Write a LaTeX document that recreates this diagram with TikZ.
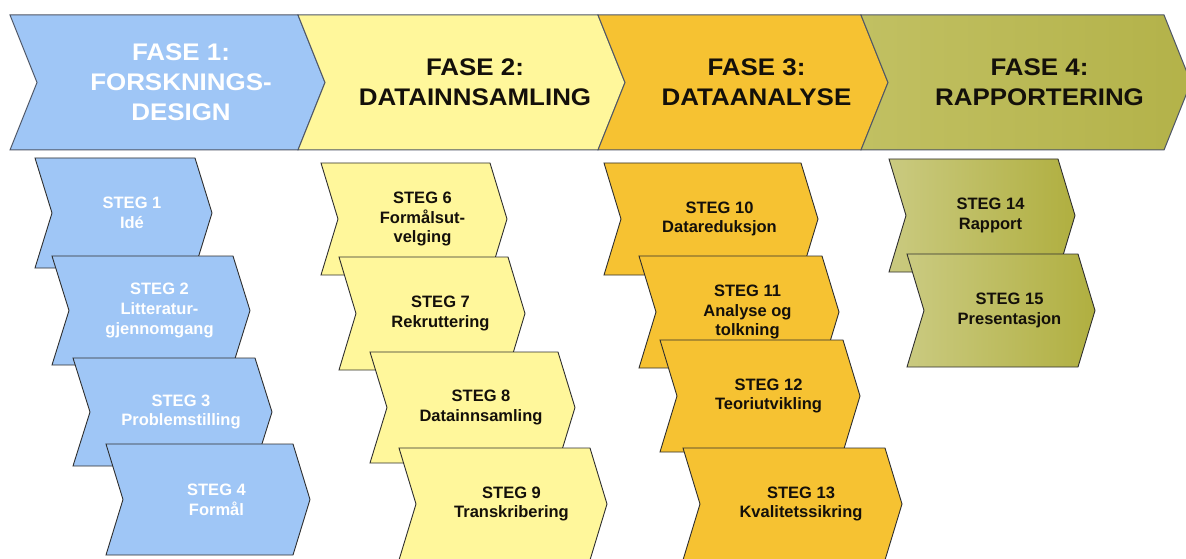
\documentclass[tikz,border=0pt]{standalone}
\usepackage{fontspec}
\setmainfont{Liberation Sans}
\newfontfamily\headfont[FakeStretch=1.08]{Liberation Sans}
\definecolor{phaseblue}{HTML}{9FC6F6}
\definecolor{phaseyellow}{HTML}{FFF79B}
\definecolor{phaseorange}{HTML}{F6C232}
\definecolor{olivelight}{HTML}{C1C062}
\definecolor{olivedark}{HTML}{B3B249}
\definecolor{steplight}{HTML}{CACA80}
\definecolor{stepdark}{HTML}{B0AF40}
\definecolor{phaseline}{HTML}{4E5666}
\definecolor{stepline}{HTML}{2E2E2E}
\definecolor{inkdark}{HTML}{14100A}
% #1 name, #2 left x, #3 top y, #4 top-right x, #5 bottom y,
% #6 notch/point depth, #7 shape style, #8 text style, #9 text
\newcommand\chevronbox[9]{%
  \path[#7] (#2,#3) -- (#4,#3) -- ({#4+#6},{(#3+#5)/2}) -- (#4,#5)
    -- (#2,#5) -- ({#2+#6},{(#3+#5)/2}) -- cycle;
  \node[#8] (#1) at ({(#2+#4)/2+#6},{(#3+#5)/2}) {#9};
}
\begin{document}
\begin{tikzpicture}[x=1pt,y=-1pt,
  phase/.style={draw=phaseline, line width=1pt},
  stepshape/.style={draw=stepline, line width=0.9pt},
  phasetext/.style={align=center, inner sep=0pt,
    font=\headfont\bfseries\fontsize{24}{30}\selectfont},
  steptext/.style={align=center, inner sep=0pt,
    font=\bfseries\fontsize{16.5}{19.8}\selectfont},
  bluephase/.style={phase, fill=phaseblue},
  yellowphase/.style={phase, fill=phaseyellow},
  orangephase/.style={phase, fill=phaseorange},
  olivephase/.style={phase, left color=olivelight, right color=olivedark},
  bluestep/.style={stepshape, fill=phaseblue},
  yellowstep/.style={stepshape, fill=phaseyellow},
  orangestep/.style={stepshape, fill=phaseorange},
  olivestep/.style={stepshape, left color=steplight, right color=stepdark},
  whitetext/.style={text=white},
  darktext/.style={text=inkdark}]
\useasboundingbox (0,0) rectangle (1186,559);
\clip (0,0) rectangle (1186,559);

% phase banner
\chevronbox{fase1}{10}{15}{298}{150}{27}{bluephase}{phasetext, whitetext}{FASE 1:\\FORSKNINGS-\\DESIGN}
\chevronbox{fase2}{298}{15}{598}{150}{27}{yellowphase}{phasetext, darktext}{FASE 2:\\DATAINNSAMLING}
\chevronbox{fase3}{598}{15}{861}{150}{27}{orangephase}{phasetext, darktext}{FASE 3:\\DATAANALYSE}
\chevronbox{fase4}{861}{15}{1164}{150}{27}{olivephase}{phasetext, darktext}{FASE 4:\\RAPPORTERING}

% phase 1 steps
\chevronbox{steg1}{35}{158}{195}{268}{17}{bluestep}{steptext, whitetext}{STEG 1\\Idé}
\chevronbox{steg2}{52}{256}{233}{365}{17}{bluestep}{steptext, whitetext}{STEG 2\\Litteratur-\\gjennomgang}
\chevronbox{steg3}{73}{358}{255}{466}{17}{bluestep}{steptext, whitetext}{STEG 3\\Problemstilling}
\chevronbox{steg4}{106}{444}{293}{555}{17}{bluestep}{steptext, whitetext}{STEG 4\\Formål}

% phase 2 steps
\chevronbox{steg6}{321}{163}{490}{275}{17}{yellowstep}{steptext, darktext}{STEG 6\\Formålsut-\\velging}
\chevronbox{steg7}{339}{257}{508}{370}{17}{yellowstep}{steptext, darktext}{STEG 7\\Rekruttering}
\chevronbox{steg8}{370}{352}{558}{463}{17}{yellowstep}{steptext, darktext}{STEG 8\\Datainnsamling}
\chevronbox{steg9}{399}{448}{590}{560}{17}{yellowstep}{steptext, darktext}{STEG 9\\Transkribering}

% phase 3 steps
\chevronbox{steg10}{604}{163}{801}{275}{17}{orangestep}{steptext, darktext}{STEG 10\\Datareduksjon}
\chevronbox{steg11}{639}{256}{822}{368}{17}{orangestep}{steptext, darktext}{STEG 11\\Analyse og\\tolkning}
\chevronbox{steg12}{660}{340}{843}{452}{17}{orangestep}{steptext, darktext}{STEG 12\\Teoriutvikling}
\chevronbox{steg13}{683}{448}{885}{560}{17}{orangestep}{steptext, darktext}{STEG 13\\Kvalitetssikring}

% phase 4 steps
\chevronbox{steg14}{889}{159}{1058}{272}{17}{olivestep}{steptext, darktext}{STEG 14\\Rapport}
\chevronbox{steg15}{907}{254}{1078}{367}{17}{olivestep}{steptext, darktext}{STEG 15\\Presentasjon}
\end{tikzpicture}
\end{document}
